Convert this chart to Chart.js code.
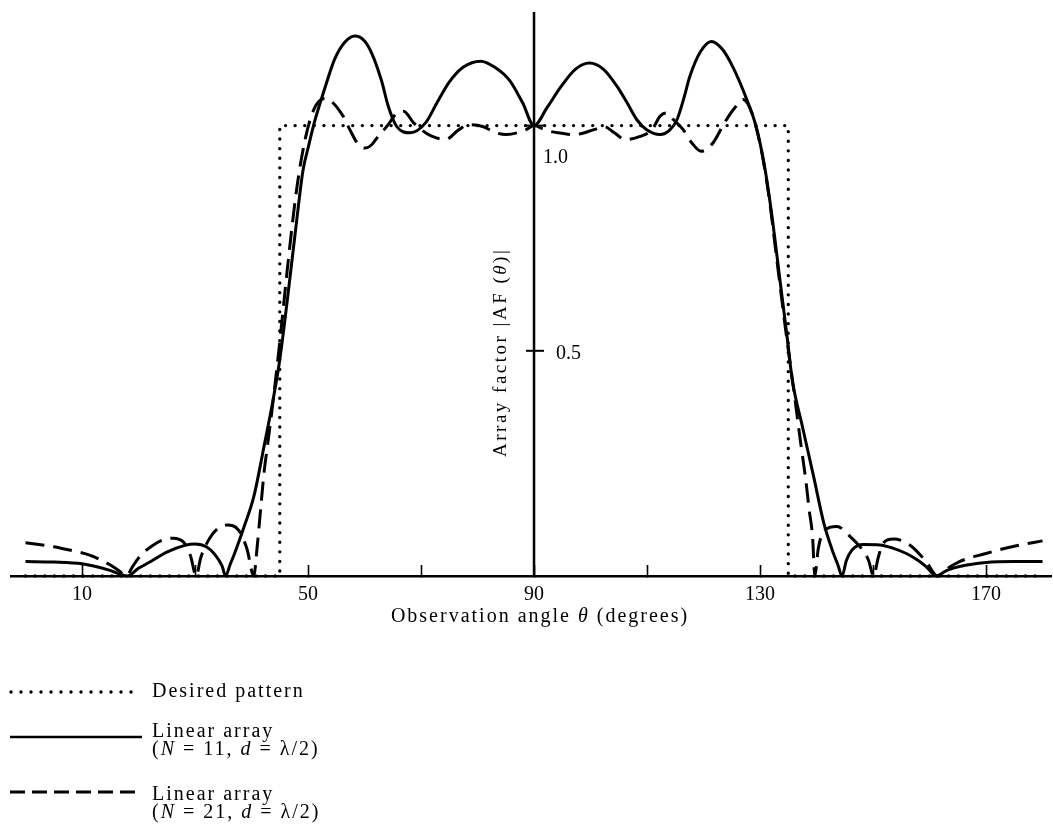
<!DOCTYPE html>
<html>
<head>
<meta charset="utf-8">
<script src="https://cdn.jsdelivr.net/npm/chart.js@4.4.1/dist/chart.umd.min.js"></script>
<style>
html,body{margin:0;padding:0;background:#fff;}
#wrap{position:relative;width:1053px;height:827px;overflow:hidden;}
#c{position:absolute;left:0;top:0;}
.lt{position:absolute;font-family:"Liberation Serif","Times New Roman",serif;font-size:20px;line-height:18px;color:#000;letter-spacing:2px;white-space:nowrap;}
#legsvg{position:absolute;left:0;top:660px;}
</style>
</head>
<body>
<div id="wrap">
<canvas id="c" width="1053" height="827"></canvas>
<svg id="legsvg" width="170" height="150">
  <line x1="11" y1="32" x2="141" y2="32" stroke="#000" stroke-width="3.4" stroke-linecap="round" stroke-dasharray="0 10"/>
  <line x1="10" y1="77" x2="142" y2="77" stroke="#000" stroke-width="2.6"/>
  <line x1="10" y1="132" x2="142" y2="132" stroke="#000" stroke-width="3" stroke-dasharray="15 7"/>
</svg>
<div class="lt" id="l1" style="left:152px;top:681px;">Desired pattern</div>
<div class="lt" id="l2" style="left:152px;top:721px;">Linear array<br>(<i>N</i> = 11, <i>d</i> = λ/2)</div>
<div class="lt" id="l3" style="left:152px;top:784px;">Linear array<br>(<i>N</i> = 21, <i>d</i> = λ/2)</div>
</div>
<script>
// ---- data ----
const thetaN11 = [0, 5, 10, 14.8, 18, 20, 22, 25, 28.2, 30, 32, 33.5, 34.8, 35.4, 36.2, 37, 38.7, 40.4, 42.2, 43.8, 45, 46.5, 48, 49.1, 50.1, 51.1, 52.9, 54.7, 56.5, 58.3, 60, 61.3, 63, 64.2, 65.7, 68.1, 70.8, 72.8, 74.9, 77.5, 80.6, 83, 85.7, 88, 90, 92.3, 94.8, 97.3, 99.8, 102.3, 104.7, 106.5, 108.2, 110, 112.3, 114, 115.3, 116.5, 117.6, 119.5, 121.4, 123.3, 125.2, 127.5, 129.3, 130.8, 132, 133.5, 134.8, 135.7, 137.5, 139.5, 141.3, 143, 143.8, 144.5, 145.3, 146.3, 148.3, 151.2, 153.5, 155.9, 157.8, 159.4, 161.2, 163, 165.3, 170, 175, 180];
const afN11 = [0.032, 0.031, 0.027, 0.013, 0, 0.017, 0.031, 0.053, 0.068, 0.071, 0.065, 0.048, 0.022, 0, 0.025, 0.05, 0.11, 0.176, 0.287, 0.39, 0.48, 0.63, 0.79, 0.9, 0.955, 1.006, 1.08, 1.147, 1.185, 1.199, 1.188, 1.16, 1.10, 1.043, 0.998, 0.984, 1.006, 1.05, 1.095, 1.13, 1.143, 1.13, 1.1, 1.05, 1.0, 1.04, 1.087, 1.125, 1.139, 1.125, 1.087, 1.05, 1.013, 0.99, 0.98, 0.99, 1.013, 1.06, 1.11, 1.165, 1.187, 1.17, 1.13, 1.063, 0.998, 0.91, 0.81, 0.66, 0.53, 0.436, 0.332, 0.22, 0.117, 0.05, 0.024, 0, 0.035, 0.058, 0.07, 0.069, 0.062, 0.05, 0.036, 0.021, 0, 0.012, 0.021, 0.03, 0.032, 0.032];

const thetaN21 = [0, 5, 8, 11.2, 14.8, 16.5, 17.8, 19, 20.2, 22.3, 24.3, 26.1, 28, 29.2, 30.2, 31, 32.1, 34, 35.7, 37.7, 39.2, 40.4, 41, 41.6, 42.2, 42.8, 43.7, 45, 46.5, 48, 49.5, 51, 52.9, 54.1, 56.2, 57.4, 58.9, 60.1, 61.3, 62.4, 64.2, 65.5, 66.9, 68.7, 70.8, 72, 74.3, 76.7, 78.5, 80.9, 83.3, 85.1, 88.6, 90, 92, 94.2, 97.1, 100.6, 102.4, 104.2, 106.2, 108.8, 110.9, 112.3, 113.5, 114.7, 116.4, 117.9, 119.6, 121.7, 123.7, 125.5, 127, 128.5, 130, 131.5, 133, 134.5, 136, 137.2, 138.1, 138.7, 139.3, 139.7, 140.3, 141.3, 143.6, 146, 148, 149.2, 150.1, 150.9, 151.8, 153.6, 156.5, 159.4, 161.4, 163, 165.3, 170, 174.6, 180];
const afN21 = [0.074, 0.065, 0.057, 0.047, 0.026, 0.012, 0, 0.022, 0.043, 0.066, 0.08, 0.084, 0.075, 0.045, 0, 0.04, 0.073, 0.105, 0.113, 0.102, 0.06, 0, 0.065, 0.147, 0.228, 0.287, 0.376, 0.52, 0.7, 0.86, 0.97, 1.035, 1.06, 1.054, 1.021, 0.991, 0.958, 0.95, 0.958, 0.976, 1.002, 1.025, 1.032, 1.006, 0.984, 0.976, 0.969, 0.991, 1.002, 0.998, 0.984, 0.98, 0.991, 1.0, 0.99, 0.984, 0.98, 0.991, 0.998, 0.984, 0.969, 0.976, 0.991, 1.021, 1.028, 1.013, 0.991, 0.962, 0.943, 0.962, 1.006, 1.039, 1.058, 1.03, 0.96, 0.85, 0.7, 0.55, 0.41, 0.295, 0.213, 0.147, 0.087, 0, 0.06, 0.1, 0.11, 0.087, 0.06, 0.035, 0, 0.04, 0.073, 0.082, 0.069, 0.032, 0, 0.015, 0.032, 0.05, 0.065, 0.078];

const thetaDesired = [0, 45, 45, 135, 135, 180];
const afDesired = [0, 0, 1, 1, 0, 0];

const xTickValues = [10, 30, 50, 70, 90, 110, 130, 150, 170];
const xTickLabels = ['10', '', '50', '', '90', '', '130', '', '170'];
const yTickValues = [0.5, 1.0];
const yTickLabels = ['0.5', '1.0'];
const seriesNames = ['Desired pattern', 'Linear array (N = 11, d = λ/2)', 'Linear array (N = 21, d = λ/2)'];
const xTitleParts = [['Observation angle ', false], ['θ', true], [' (degrees)', false]];
const yTitleParts = [['Array factor |AF (', false], ['θ', true], [')|', false]];

const pts = (xs, ys) => xs.map((t, i) => ({x: t, y: ys[i]}));
const SERIF = '"Liberation Serif", "Times New Roman", serif';

function drawRuns(ctx, parts, x, y, size, align, spacing) {
  ctx.letterSpacing = spacing + 'px';
  const fonts = parts.map(p => (p[1] ? 'italic ' : '') + size + 'px ' + SERIF);
  let total = 0;
  const widths = parts.map((p, i) => { ctx.font = fonts[i]; const w = ctx.measureText(p[0]).width; total += w; return w; });
  let cx = align === 'center' ? x - total / 2 : x;
  ctx.textAlign = 'left';
  parts.forEach((p, i) => { ctx.font = fonts[i]; ctx.fillText(p[0], cx, y); cx += widths[i]; });
  ctx.letterSpacing = '0px';
}

const centerAxis = {
  id: 'centerAxis',
  afterDatasetsDraw(chart) {
    const {ctx, scales: {x, y}} = chart;
    const ax = x.getPixelForValue(90);
    ctx.save();
    ctx.strokeStyle = '#000';
    ctx.fillStyle = '#000';
    ctx.lineWidth = 2.5;
    ctx.beginPath();
    ctx.moveTo(ax, y.getPixelForValue(0));
    ctx.lineTo(ax, y.getPixelForValue(y.max) - 1);
    ctx.stroke();
    ctx.lineWidth = 2;
    yTickValues.forEach(v => {
      const py = y.getPixelForValue(v);
      ctx.beginPath(); ctx.moveTo(ax - 8, py); ctx.lineTo(ax + 10, py); ctx.stroke();
    });
    ctx.font = '20px ' + SERIF;
    ctx.textBaseline = 'alphabetic';
    ctx.textAlign = 'left';
    ctx.fillText(yTickLabels[0], ax + 22, y.getPixelForValue(yTickValues[0]) + 8);
    ctx.fillText(yTickLabels[1], ax + 9, y.getPixelForValue(yTickValues[1]) + 37);
    // rotated y title
    ctx.save();
    ctx.translate(ax - 28, y.getPixelForValue(0) - 119);
    ctx.rotate(-Math.PI / 2);
    drawRuns(ctx, yTitleParts, 0, 0, 19, 'left', 2.5);
    ctx.restore();
    // x title
    drawRuns(ctx, xTitleParts, ax + 6, y.getPixelForValue(0) + 46, 20, 'center', 2);
    ctx.restore();
  }
};

new Chart(document.getElementById('c'), {
  type: 'line',
  data: {
    datasets: [
      {label: seriesNames[1], data: pts(thetaN11, afN11), borderColor: '#000', borderWidth: 3, pointRadius: 0, cubicInterpolationMode: 'monotone', tension: 0.4, fill: false, clip: false},
      {label: seriesNames[2], data: pts(thetaN21, afN21), borderColor: '#000', borderWidth: 3, borderDash: [19, 9], pointRadius: 0, cubicInterpolationMode: 'monotone', tension: 0.4, fill: false, clip: false},
      {label: seriesNames[0], data: pts(thetaDesired, afDesired), borderColor: '#000', borderWidth: 3.4, borderDash: [0, 9.6], borderCapStyle: 'round', pointRadius: 0, tension: 0, fill: false, clip: false}
    ]
  },
  options: {
    responsive: false,
    animation: false,
    devicePixelRatio: 1,
    events: [],
    layout: {padding: {left: 11.4, right: 2, top: 13, bottom: 211}},
    plugins: {legend: {display: false}, tooltip: {enabled: false}, title: {display: false}},
    scales: {
      x: {
        type: 'linear', min: -2.5, max: 181.5,
        afterBuildTicks: s => { s.ticks = xTickValues.map(v => ({value: v})); },
        afterFit: s => { s.height = 40; },
        ticks: {
          autoSkip: false, maxRotation: 0, padding: 18, color: '#000',
          font: {family: SERIF, size: 20},
          callback: (v) => { const i = xTickValues.indexOf(v); return i >= 0 ? xTickLabels[i] : ''; }
        },
        grid: {display: true, drawOnChartArea: false, drawTicks: true, tickLength: -11, tickWidth: 1.6, tickColor: '#000'},
        border: {display: true, color: '#000', width: 2.5},
        title: {display: false}
      },
      y: {
        type: 'linear', min: 0, max: 1.25, display: false
      }
    }
  },
  plugins: [centerAxis]
});
</script>
</body>
</html>
